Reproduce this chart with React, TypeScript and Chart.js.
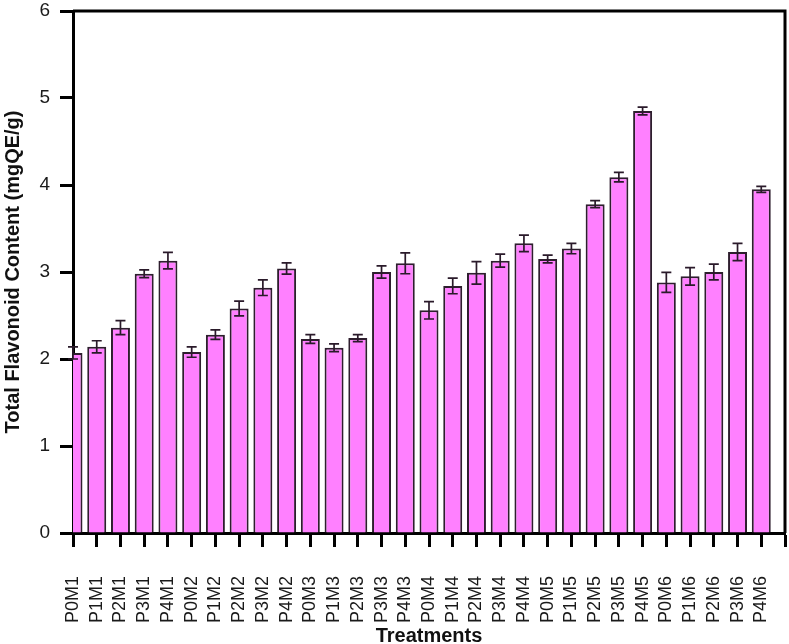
import React, { useEffect, useRef } from 'react';
import { Chart, registerables } from 'chart.js';

Chart.register(...registerables);

const categories = [
  'P0M1', 'P1M1', 'P2M1', 'P3M1', 'P4M1',
  'P0M2', 'P1M2', 'P2M2', 'P3M2', 'P4M2',
  'P0M3', 'P1M3', 'P2M3', 'P3M3', 'P4M3',
  'P0M4', 'P1M4', 'P2M4', 'P3M4', 'P4M4',
  'P0M5', 'P1M5', 'P2M5', 'P3M5', 'P4M5',
  'P0M6', 'P1M6', 'P2M6', 'P3M6', 'P4M6',
];

const values = [
  2.07, 2.14, 2.36, 2.98, 3.13,
  2.08, 2.28, 2.58, 2.82, 3.04,
  2.23, 2.13, 2.24, 3.00, 3.10,
  2.56, 2.84, 2.99, 3.13, 3.33,
  3.15, 3.27, 3.78, 4.09, 4.85,
  2.88, 2.95, 3.00, 3.23, 3.95,
];

const errors = [
  0.07, 0.07, 0.08, 0.045, 0.095,
  0.06, 0.055, 0.085, 0.09, 0.065,
  0.05, 0.045, 0.04, 0.07, 0.12,
  0.10, 0.09, 0.13, 0.075, 0.095,
  0.045, 0.06, 0.04, 0.055, 0.045,
  0.115, 0.10, 0.09, 0.10, 0.035,
];

const yTicks = [0, 1, 2, 3, 4, 5, 6];
const xLabels = [...categories, ''];

const errorBarPlugin = {
  id: 'errorBars',
  afterDatasetsDraw(chart: any) {
    const { ctx } = chart;
    const y = chart.scales.y;
    const meta = chart.getDatasetMeta(0);
    ctx.save();
    ctx.strokeStyle = '#2a1a2a';
    ctx.lineWidth = 1.7;
    meta.data.forEach((bar: any, i: number) => {
      const x = bar.x;
      const top = y.getPixelForValue(values[i] + errors[i]);
      const bot = y.getPixelForValue(values[i] - errors[i]);
      ctx.beginPath();
      ctx.moveTo(x, top);
      ctx.lineTo(x, bot);
      ctx.moveTo(x - 5, top);
      ctx.lineTo(x + 5, top);
      ctx.moveTo(x - 5, bot);
      ctx.lineTo(x + 5, bot);
      ctx.stroke();
    });
    ctx.restore();
  },
};

const framePlugin = {
  id: 'frame',
  afterDraw(chart: any) {
    const { ctx, chartArea } = chart;
    const { left, right, top, bottom } = chartArea;
    ctx.save();
    ctx.strokeStyle = '#000';
    ctx.lineWidth = 3;
    ctx.beginPath();
    ctx.moveTo(left, top);
    ctx.lineTo(right + 1.5, top);
    ctx.moveTo(right, top);
    ctx.lineTo(right, bottom);
    ctx.stroke();
    ctx.restore();
  },
};

export default function App() {
  const ref = useRef<HTMLCanvasElement | null>(null);

  useEffect(() => {
    if (!ref.current) return;
    const chart = new Chart(ref.current, {
      type: 'bar',
      data: {
        labels: xLabels,
        datasets: [
          {
            data: values,
            backgroundColor: '#FF80FF',
            borderColor: '#2e1e2e',
            borderWidth: 2,
            categoryPercentage: 1,
            barPercentage: 0.8,
            clip: { left: 0, top: false, right: false, bottom: 0 } as any,
          },
        ],
      },
      options: {
        animation: false,
        responsive: true,
        maintainAspectRatio: false,
        layout: { padding: { top: 11, right: 4, left: 0, bottom: 0 } },
        plugins: {
          legend: { display: false },
          tooltip: { enabled: false },
        },
        scales: {
          x: {
            type: 'category',
            offset: false,
            grid: {
              display: true,
              offset: false,
              drawOnChartArea: false,
              drawTicks: true,
              tickLength: 14,
              tickWidth: 3,
              tickColor: '#000',
            },
            border: { display: true, color: '#000', width: 3 },
            ticks: {
              autoSkip: false,
              minRotation: 90,
              maxRotation: 90,
              padding: 29,
              color: '#1a1a1a',
              font: { family: '"Liberation Sans", Arial, sans-serif', size: 18 },
            },
            title: {
              display: true,
              text: 'Treatments',
              color: '#111',
              padding: { top: 0, bottom: 0 },
              font: { family: '"Liberation Sans", Arial, sans-serif', size: 20, weight: 'bold', lineHeight: 0.8 },
            },
            afterFit(scale: any) {
              scale.height = 111;
              scale.paddingLeft = 0;
              scale.paddingRight = 0;
            },
          },
          y: {
            min: 0,
            max: 6,
            grid: {
              display: true,
              drawOnChartArea: false,
              drawTicks: true,
              tickLength: 13,
              tickWidth: 3,
              tickColor: '#000',
            },
            border: { display: true, color: '#000', width: 3 },
            afterBuildTicks(scale: any) {
              scale.ticks = yTicks.map((v) => ({ value: v }));
            },
            ticks: {
              padding: 10,
              color: '#1a1a1a',
              font: { family: '"Liberation Sans", Arial, sans-serif', size: 19 },
            },
            title: {
              display: true,
              text: 'Total Flavonoid Content (mgQE/g)',
              color: '#111',
              padding: { top: 1, bottom: 0 },
              font: { family: '"Liberation Sans", Arial, sans-serif', size: 20, weight: 'bold' },
            },
            afterFit(scale: any) {
              scale.width = 73;
              scale.paddingTop = 0;
              scale.paddingBottom = 0;
            },
          },
        },
      },
      plugins: [errorBarPlugin, framePlugin],
    });
    return () => chart.destroy();
  }, []);

  return (
    <div style={{ position: 'absolute', left: 0, top: 0, width: 789, height: 644 }}>
      <canvas ref={ref} />
    </div>
  );
}
